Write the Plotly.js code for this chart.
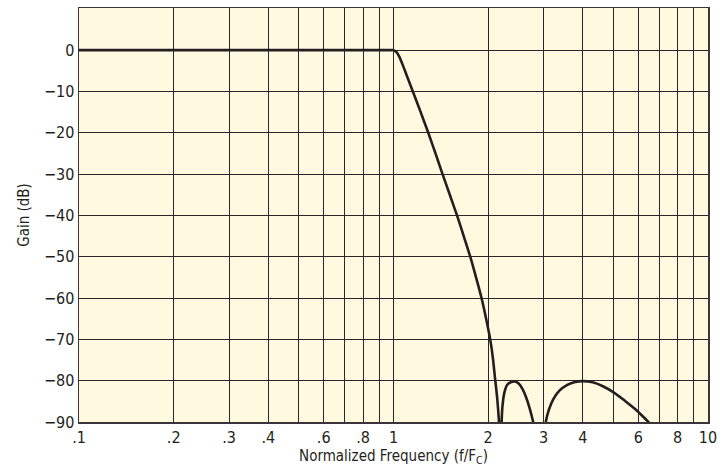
<!DOCTYPE html>
<html>
<head>
<meta charset="utf-8">
<script src="https://cdn.plot.ly/plotly-3.0.1.min.js"></script>
<style>html,body{margin:0;padding:0;background:#fff;}#chart{width:723px;height:472px;}</style>
</head>
<body>
<div id="chart"></div>
<script>
// Normalized frequency (f/Fc) and gain (dB)
const freq = [0.1, 0.3, 0.6, 0.9, 0.98, 1.0, 1.02, 1.04, 1.065, 1.1, 1.152, 1.22, 1.29, 1.36, 1.432, 1.51, 1.592, 1.672, 1.754, 1.83, 1.905, 1.97, 2.03, 2.07, 2.10, 2.135, 2.165, 2.18, 2.19, 2.2, 2.207, 2.22, 2.25, 2.3, 2.37, 2.434, 2.5, 2.57, 2.64, 2.71, 2.78, 2.85, 2.93, 3.0, 3.05, 3.12, 3.22, 3.37, 3.57, 3.78, 4.0, 4.3, 4.65, 5.05, 5.45, 5.85, 6.2, 6.46, 6.9, 7.5];
const gain = [0, 0, 0, 0, 0, 0, -0.4, -1.4, -3.2, -6, -10, -15, -20, -25, -30, -35, -40, -45, -50, -55, -60, -65, -70, -74.5, -79, -84, -90, -95, -105, -95, -90, -86.3, -83, -81, -80.3, -80.2, -80.7, -82, -84, -86.7, -90, -95, -105, -96, -90, -87, -84.5, -82.4, -81, -80.3, -80.1, -80.4, -81.4, -83, -84.9, -86.8, -88.6, -90, -92.5, -96];
const xTickVals = [0.1, 0.2, 0.3, 0.4, 0.6, 0.8, 1, 2, 3, 4, 6, 8, 10];
const xTickText = ['.1', '.2', '.3', '.4', '.6', '.8', '1', '2', '3', '4', '6', '8', '10'];
const xMinorVals = [0.5, 0.7, 0.9, 5, 7, 9];
const yTickVals = [0, -10, -20, -30, -40, -50, -60, -70, -80, -90];

const fontFam = '"Liberation Sans Narrow", "DejaVu Sans Condensed", sans-serif';
const gridCol = '#2b2728';

Plotly.newPlot('chart', [{
  x: freq, y: gain, type: 'scatter', mode: 'lines',
  line: {color: '#231f20', width: 2.6, shape: 'spline', smoothing: 0.8},
  hoverinfo: 'skip'
}], {
  width: 723, height: 472,
  margin: {l: 79, r: 15, t: 8, b: 50},
  paper_bgcolor: '#ffffff',
  plot_bgcolor: '#fffadf',
  showlegend: false,
  font: {family: fontFam, size: 16, color: '#231f20'},
  xaxis: {
    type: 'log',
    range: [-1, 1],
    tickmode: 'array', tickvals: xTickVals, ticktext: xTickText,
    showgrid: true, gridcolor: gridCol, gridwidth: 1,
    minor: {tickmode: 'array', tickvals: xMinorVals, showgrid: true, gridcolor: gridCol, gridwidth: 1, ticks: ''},
    ticks: '', ticklen: 0,
    showline: true, linecolor: '#3a3637', linewidth: 1.5, mirror: true,
    zeroline: false,
    tickfont: {family: fontFam, size: 16, color: '#231f20'},
    title: {text: 'Normalized Frequency (f/F<sub>C</sub>)', font: {family: fontFam, size: 15, color: '#231f20'}, standoff: 4}
  },
  yaxis: {
    range: [-90, 10.2],
    tickmode: 'array', tickvals: yTickVals,
    showgrid: true, gridcolor: gridCol, gridwidth: 1,
    ticks: '', ticklen: 0,
    showline: true, linecolor: '#3a3637', linewidth: 1.5, mirror: true,
    zeroline: false,
    tickfont: {family: fontFam, size: 16, color: '#231f20'},
    title: {text: 'Gain (dB)', font: {family: fontFam, size: 15, color: '#231f20'}, standoff: 10}
  }
}, {staticPlot: true, displayModeBar: false});
</script>
</body>
</html>
